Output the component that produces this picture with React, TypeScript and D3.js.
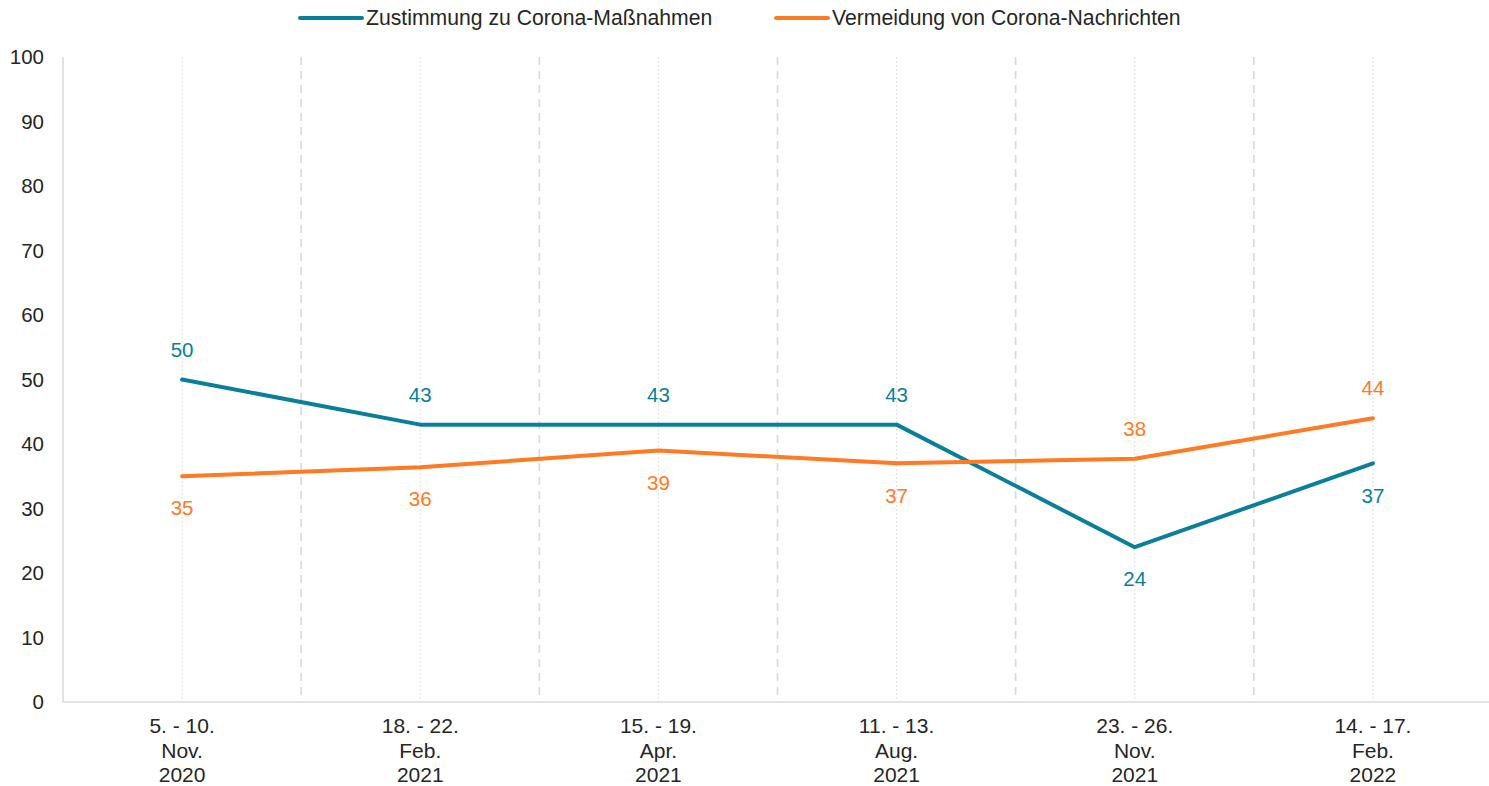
import React from "react";
import * as d3 from "d3";

const categories = [
  ["5. - 10.", "Nov.", "2020"],
  ["18. - 22.", "Feb.", "2021"],
  ["15. - 19.", "Apr.", "2021"],
  ["11. - 13.", "Aug.", "2021"],
  ["23. - 26.", "Nov.", "2021"],
  ["14. - 17.", "Feb.", "2022"],
];
const zustimmung = [50, 43, 43, 43, 24, 37];
const vermeidung = [35, 36.4, 39, 37, 37.7, 44];
const yTicks = [0, 10, 20, 30, 40, 50, 60, 70, 80, 90, 100];
const seriesNames = ["Zustimmung zu Corona-Maßnahmen", "Vermeidung von Corona-Nachrichten"];

const W = 1489;
const H = 786;
const TEAL = "#0a7f9b";
const ORANGE = "#ff7a22";
const FONT = "Liberation Sans, Arial, sans-serif";

export default function App() {
  const left = 63;
  const right = 1492;
  const top = 57;
  const bottom = 702;
  const idx = categories.map((_, i) => i);
  const x = d3.scaleBand<number>().domain(idx).range([left, right]).padding(0);
  const y = d3.scaleLinear().domain([0, 100]).range([bottom, top]);
  const cx = (i: number) => (x(i) as number) + x.bandwidth() / 2;
  const line = d3
    .line<number>()
    .x((_, i) => cx(i))
    .y((d) => y(d));

  const series = [
    { name: seriesNames[0], values: zustimmung, color: TEAL, other: vermeidung },
    { name: seriesNames[1], values: vermeidung, color: ORANGE, other: zustimmung },
  ];

  return (
    <svg
      width={W}
      height={H}
      style={{ position: "absolute", left: 0, top: 0, background: "#fff" }}
      fontFamily={FONT}
    >
      {idx.map((i) => (
        <line
          key={"c" + i}
          x1={cx(i)}
          x2={cx(i)}
          y1={top}
          y2={bottom}
          stroke="#e6e6e6"
          strokeWidth={1.2}
          strokeDasharray="2,2"
        />
      ))}
      {idx.slice(1).map((i) => (
        <line
          key={"b" + i}
          x1={x(i) as number}
          x2={x(i) as number}
          y1={top}
          y2={bottom}
          stroke="#d9d9d9"
          strokeWidth={1.6}
          strokeDasharray="8,6"
        />
      ))}
      <line x1={left} x2={left} y1={top} y2={bottom} stroke="#d9d9d9" strokeWidth={1.5} />
      <line x1={left} x2={W} y1={bottom} y2={bottom} stroke="#d9d9d9" strokeWidth={1.5} />
      {yTicks.map((t) => (
        <text
          key={"y" + t}
          x={44}
          y={y(t)}
          dy="0.35em"
          textAnchor="end"
          fontSize={20.5}
          fill="#262626"
        >
          {t}
        </text>
      ))}
      {categories.map((c, i) => (
        <text key={"x" + i} x={cx(i)} y={733} textAnchor="middle" fontSize={21} fill="#262626">
          {c.map((l, j) => (
            <tspan key={j} x={cx(i)} dy={j === 0 ? 0 : 24.5}>
              {l}
            </tspan>
          ))}
        </text>
      ))}
      {series.map((s) => (
        <path
          key={s.name}
          d={line(s.values) as string}
          fill="none"
          stroke={s.color}
          strokeWidth={4}
          strokeLinejoin="round"
          strokeLinecap="round"
        />
      ))}
      {series.map((s) =>
        s.values.map((v, i) => {
          const above = v >= s.other[i];
          return (
            <text
              key={s.name + i}
              x={cx(i)}
              y={y(v) + (above ? -30 : 32)}
              dy="0.35em"
              textAnchor="middle"
              fontSize={20.5}
              fill={s.color}
            >
              {Math.round(v)}
            </text>
          );
        })
      )}
      <line x1={300} x2={362} y1={18} y2={18} stroke={TEAL} strokeWidth={4} strokeLinecap="round" />
      <text x={366} y={18} dy="0.35em" fontSize={21.2} fill="#262626">
        {seriesNames[0]}
      </text>
      <line x1={776} x2={828} y1={18} y2={18} stroke={ORANGE} strokeWidth={4} strokeLinecap="round" />
      <text x={832} y={18} dy="0.35em" fontSize={21.2} fill="#262626">
        {seriesNames[1]}
      </text>
    </svg>
  );
}
